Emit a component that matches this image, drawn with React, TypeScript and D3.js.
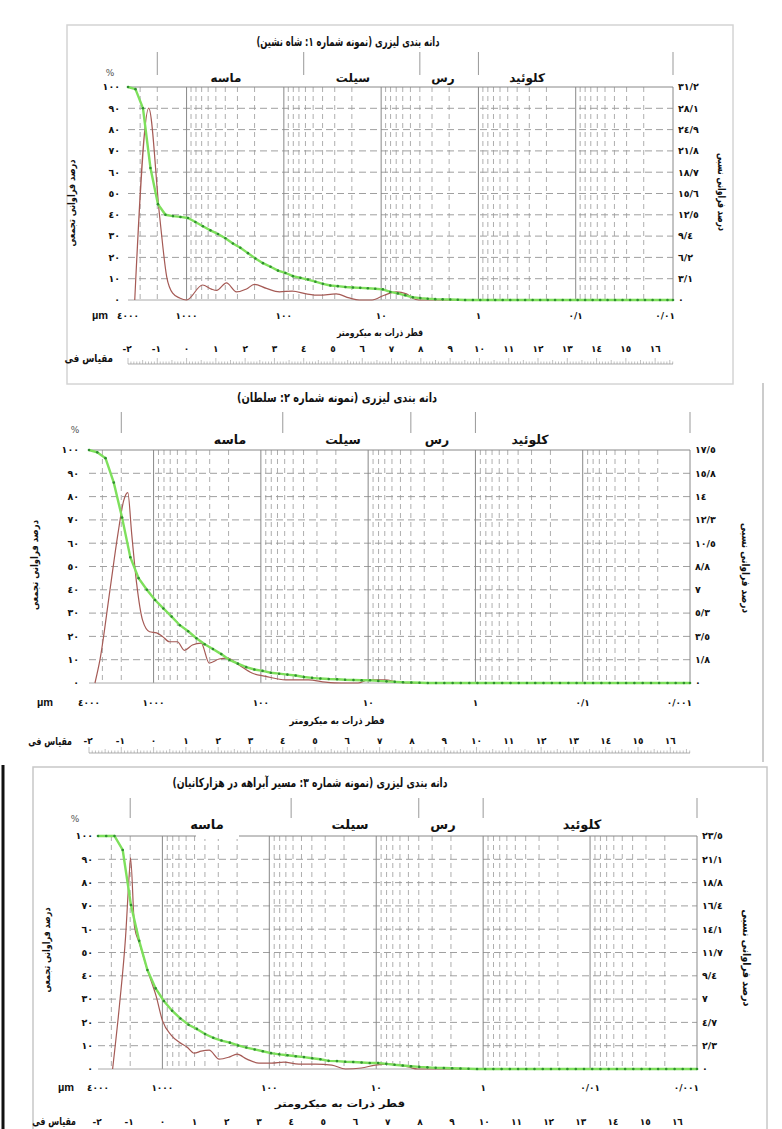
import React from 'react';
import * as d3 from 'd3';

const FONT = '"DejaVu Sans", sans-serif';
const AR = '٠١٢٣٤٥٦٧٨٩';
const toAr = (s: string) => s.replace(/[0-9]/g, (d) => AR[+d]).replace('.', '/');

// instrument size classes, µm, coarse -> fine
const SIZE_CLASSES = [4000, 3350, 2806, 2350, 1968, 1648, 1380, 1156, 968, 811, 679, 569, 476, 399, 334, 280, 234, 196, 164, 137,
  115, 96.4, 80.7, 67.6, 56.6, 47.4, 39.7, 33.3, 27.9, 23.3, 19.5, 16.4, 13.7, 11.5, 9.61, 8.05, 6.74, 5.65, 4.73, 3.96,
  3.32, 2.78, 2.33, 1.95, 1.63, 1.37, 1.14, 0.958, 0.802, 0.672, 0.563, 0.471, 0.395, 0.331, 0.277, 0.232, 0.194, 0.163, 0.136, 0.114,
  0.0955, 0.08, 0.067, 0.0561, 0.047, 0.0394, 0.033, 0.0276, 0.0231, 0.0194, 0.0162, 0.0136, 0.0114, 0.01];

// cumulative % (green)
const cum1 = [100, 99, 90, 62, 45, 40, 39.4, 39, 38.5, 36.6, 34.6, 32.7, 31, 29, 26.5, 24.5, 22, 19.5, 17.3, 15.6,
  13.8, 12.7, 11.2, 10.4, 9.6, 8.6, 7.6, 6.8, 6.5, 6.1, 5.9, 5.7, 5.5, 5.3, 5, 3.8, 3.1, 2.2, 1.3, 0.9,
  0.6, 0.4, 0.3, 0.2, 0.1, 0, 0, 0, 0, 0, 0, 0, 0, 0, 0, 0, 0, 0, 0, 0,
  0, 0, 0, 0, 0, 0, 0, 0, 0, 0, 0, 0, 0, 0];
const cum2 = [100, 99, 96.5, 86, 71, 54, 45, 40, 35.6, 32, 28.5, 24.8, 22.2, 19.2, 16.6, 14.6, 12.4, 9.9, 8.3, 6.8,
  5.8, 5.2, 4.4, 4, 3.6, 3.2, 2.6, 2.2, 1.9, 1.7, 1.6, 1.4, 1.3, 1.2, 1.2, 0.9, 0.7, 0.5, 0.3, 0.2,
  0.1, 0, 0, 0, 0, 0, 0, 0, 0, 0, 0, 0, 0, 0, 0, 0, 0, 0, 0, 0,
  0, 0, 0, 0, 0, 0, 0, 0, 0, 0, 0, 0, 0, 0];
const cum3 = [100, 100, 100, 94, 70.4, 55, 42.5, 34.6, 29.2, 25, 21.7, 19, 17.2, 15, 13.4, 12.2, 11.3, 10.1, 9.2, 8.4,
  7.6, 6.8, 6.3, 5.9, 5.5, 5.1, 4.6, 4.2, 3.5, 3.4, 3.1, 3, 2.8, 2.6, 2.6, 2.2, 1.8, 1.5, 1.2, 0.9,
  0.7, 0.5, 0.4, 0.3, 0.2, 0.1, 0, 0, 0, 0, 0, 0, 0, 0, 0, 0, 0, 0, 0, 0,
  0, 0, 0, 0, 0, 0, 0, 0, 0, 0, 0, 0, 0, 0];

// relative frequency % (brown), read as size / value pairs
const freqSizes1 = [3410, 2450, 1890, 1600, 1390, 1180, 1000, 685, 555, 492, 389, 307, 242, 201, 151, 111, 81.8, 58.8, 43.2, 29, 21.3, 16.8, 12.4, 9.3, 7, 5.5, 4.8, 4.1, 0.01];
const freqVals1 = [0, 28.1, 12.2, 3.4, 1, 0.3, 0, 2.2, 1.6, 1.4, 2.5, 1.2, 1.6, 2.3, 1.7, 1.2, 1.3, 0.9, 0.7, 0.9, 0.3, 0, 0, 0.7, 1.2, 0.9, 0.3, 0, 0];
const freqSizes2 = [3520, 3160, 2550, 2150, 1900, 1740, 1600, 1440, 1265, 1090, 938, 826, 711, 600, 516, 435, 360, 303, 245, 206, 160, 121, 90, 58.7, 36, 25, 17.8, 12.4, 10, 7, 5.3, 4, 0.01];
const freqVals2 = [0, 1.75, 7, 11.2, 13.7, 14.3, 11.2, 7.5, 4.7, 3.85, 3.76, 3.5, 3.1, 3.1, 2.45, 2.85, 3, 1.5, 1.8, 1.87, 1.35, 0.75, 0.5, 0.23, 0.23, 0.07, 0, 0, 0.23, 0.23, 0.09, 0, 0];
const freqSizes3 = [2920, 2510, 2210, 2030, 1985, 1820, 1640, 1380, 1140, 1000, 825, 695, 585, 504, 434, 365, 295, 238, 200, 162, 125, 95, 73, 53, 37, 26, 19.4, 13.8, 10.2, 7.7, 6.2, 5, 4.1, 0.01];
const freqVals3 = [0, 6.6, 13.3, 20, 21.3, 14.3, 12.7, 10, 7.3, 4.9, 3.4, 2.7, 2.2, 1.6, 1.8, 1.9, 1, 1.2, 1.5, 1, 0.6, 0.6, 0.7, 0.5, 0.5, 0.4, 0, 0.1, 0.4, 0.5, 0.4, 0.2, 0, 0];

const rightMax = [31.2, 17.5, 23.5];
const rightLabels1 = ['٠', '٣/١', '٦/٢', '٩/٤', '١٢/٥', '١٥/٦', '١٨/٧', '٢١/٨', '٢٤/٩', '٢٨/١', '٣١/٢'];
const rightLabels2 = ['٠', '١/٨', '٣/٥', '٥/٣', '٧', '٨/٨', '١٠/٥', '١٢/٣', '١٤', '١٥/٨', '١٧/٥'];
const rightLabels3 = ['٠', '٢/٣', '٤/٧', '٧', '٩/٤', '١١/٧', '١٤/١', '١٦/٤', '١٨/٨', '٢١/١', '٢٣/٥'];

const xLabelSizes = [4000, 1000, 100, 10, 1, 0.1, 0.01];
const xLabels1 = ['٤٠٠٠', '١٠٠٠', '١٠٠', '١٠', '١', '٠/١', '٠/٠١'];
const xLabels2 = ['٤٠٠٠', '١٠٠٠', '١٠٠', '١٠', '١', '٠/١', '٠/٠٠١'];
const xLabels3 = ['٤٠٠٠', '١٠٠٠', '١٠٠', '١٠', '١', '٠/٠١', '٠/٠٠١'];

const gradeBounds = [2000, 62.5, 4, 1, 0.01];
const gradeNames = ['ماسه', 'سیلت', 'رس', 'کلوئید'];
const titles = [
  'دانه بندی لیزری (نمونه شماره ١: شاه نشین)',
  'دانه بندی لیزری (نمونه شماره ٢: سلطان)',
  'دانه بندی لیزری (نمونه شماره ٣: مسیر آبراهه در هزارکانیان)',
];
const phiValues = [-2, -1, 0, 1, 2, 3, 4, 5, 6, 7, 8, 9, 10, 11, 12, 13, 14, 15, 16];

const layouts = [
  { left: 128, right: 673, top: 87, bottom: 300, titleX: 348, titleY: 46, titleW: 183, sepTop: 52, sepBot: 75, catY: 82, catFs: 12,
    catX: [226, 353, 443, 527], pctX: 110, pctY: 76, leftTickX: 120, rightTickX: 678, xLabY: 319, umX: 100,
    xTitleX: 380, xTitleY: 336, xTitleW: 86, phiY: 352, phiWordX: 113, phiWordY: 362, phiWordS: 0.8, rulerY: 364,
    leftTitleX: 75, leftTitleY: 203, leftTitleW: 87, rightTitleX: 718, rightTitleY: 192, rightTitleW: 78 },
  { left: 89, right: 690, top: 450, bottom: 683, titleX: 337, titleY: 402, titleW: 200, sepTop: 412, sepBot: 433, catY: 444, catFs: 12.5,
    catX: [230, 343, 437, 530], pctX: 75, pctY: 433, leftTickX: 79, rightTickX: 695, xLabY: 706, umX: 45,
    xTitleX: 337, xTitleY: 724, xTitleW: 95, phiY: 744, phiWordX: 72, phiWordY: 745, phiWordS: 0.72, rulerY: 753,
    leftTitleX: 38, leftTitleY: 565, leftTitleW: 90, rightTitleX: 742, rightTitleY: 568, rightTitleW: 90 },
  { left: 98, right: 697, top: 836, bottom: 1069, titleX: 310, titleY: 787, titleW: 275, sepTop: 798, sepBot: 818, catY: 829, catFs: 13,
    catX: [207, 350, 443, 582], pctX: 75, pctY: 822, leftTickX: 93, rightTickX: 702, xLabY: 1091, umX: 66,
    xTitleX: 340, xTitleY: 1107, xTitleW: 130, phiY: 1125, phiWordX: 76, phiWordY: 1125, phiWordS: 0.72, rulerY: 1137,
    leftTitleX: 50, leftTitleY: 950, leftTitleW: 85, rightTitleX: 743, rightTitleY: 958, rightTitleW: 97 },
];

type Cfg = typeof layouts[number];

function Panel({ cfg, cum, fSizes, fVals, rMax, rLabels, xLabels, title, gap }: {
  cfg: Cfg; cum: number[]; fSizes: number[]; fVals: number[]; rMax: number; rLabels: string[];
  xLabels: string[]; title: string; gap?: [number, number];
}) {
  const x = d3.scaleLog().domain([4000, 0.01]).range([cfg.left, cfg.right]);
  const y = d3.scaleLinear().domain([0, 100]).range([cfg.bottom, cfg.top]);
  const yR = d3.scaleLinear().domain([0, rMax]).range([cfg.bottom, cfg.top]);

  const majors = [1000, 100, 10, 1, 0.1];
  const minors: number[] = [];
  [-2, -1, 0, 1, 2, 3].forEach((k) => {
    for (let m = 2; m <= 9; m++) {
      const v = m * Math.pow(10, k);
      if (v < 4000 && v > 0.01) minors.push(v);
    }
  });
  const hTicks = y.ticks(10);

  const green = d3.line<number>()
    .x((_, i) => x(SIZE_CLASSES[i]))
    .y((d) => y(d));
  const brown = d3.line<number>()
    .x((_, i) => x(fSizes[i]))
    .y((d) => yR(d))
    .curve(d3.curveMonotoneX);

  const phiX = (p: number) => x(1000 * Math.pow(2, -p));
  const phiMax = Math.log2(1000 / 0.01);
  const rulerTicks = d3.range(0, Math.floor((phiMax + 2) * 10) + 1).map((i) => -2 + i / 10);

  const txt = { fontFamily: FONT, fontWeight: 700 as const };
  const greenVals = cum.slice(0, SIZE_CLASSES.length);

  return (
    <g>
      {/* title */}
      <text x={cfg.titleX} y={cfg.titleY} textAnchor="middle" direction="rtl" fontSize={12.5} {...txt} fill="#111"
        textLength={cfg.titleW} lengthAdjust="spacingAndGlyphs">{title}</text>
      {/* grade header */}
      {gradeBounds.map((b, i) => (
        <line key={'sep' + i} x1={x(b)} x2={x(b)} y1={cfg.sepTop} y2={cfg.sepBot} stroke="#999" strokeWidth={1} />
      ))}
      {gradeNames.map((n, i) => (
        <text key={'cat' + i} x={cfg.catX[i]} y={cfg.catY} textAnchor="middle" fontSize={cfg.catFs} {...txt} fill="#111">{n}</text>
      ))}
      {/* grid */}
      {hTicks.filter((t) => t > 0 && t < 100).map((t) => (
        <line key={'h' + t} x1={cfg.left} x2={cfg.right} y1={y(t)} y2={y(t)} stroke="#888" strokeWidth={0.8} strokeDasharray="7,4" />
      ))}
      {minors.map((v) => (
        <line key={'mv' + v} x1={x(v)} x2={x(v)} y1={cfg.top} y2={cfg.bottom} stroke="#999" strokeWidth={0.8} strokeDasharray="5,4" />
      ))}
      {majors.map((v) => (
        <line key={'Mv' + v} x1={x(v)} x2={x(v)} y1={cfg.top} y2={cfg.bottom} stroke="#888" strokeWidth={1} />
      ))}
      <line x1={cfg.right} x2={cfg.right} y1={cfg.top} y2={cfg.bottom} stroke="#888" strokeWidth={1} />
      <line x1={cfg.left} x2={cfg.right} y1={cfg.top} y2={cfg.top} stroke="#888" strokeWidth={1} />
      <line x1={cfg.left} x2={cfg.right} y1={cfg.bottom} y2={cfg.bottom} stroke="#aaa" strokeWidth={1} />
      {gap && <rect x={gap[0]} y={cfg.top - 4} width={gap[1] - gap[0]} height={7} fill="#fff" />}
      {/* left axis */}
      <text x={cfg.pctX} y={cfg.pctY} textAnchor="middle" fontSize={9} fontFamily={FONT} fill="#555">%</text>
      {hTicks.map((t) => (
        <text key={'lt' + t} x={cfg.leftTickX} y={y(t)} dy="0.35em" textAnchor="end" fontSize={9.5} {...txt} fill="#111">{toAr(String(t))}</text>
      ))}
      {/* right axis */}
      {rLabels.map((l, i) => (
        <text key={'rt' + i} x={cfg.rightTickX} y={yR((rMax * i) / 10)} dy="0.35em" textAnchor="start" fontSize={9.5} {...txt} fill="#111">{l}</text>
      ))}
      {/* data */}
      <path d={brown(fVals) || ''} fill="none" stroke="#a55a55" strokeWidth={1.2} />
      <path d={green(greenVals) || ''} fill="none" stroke="#7ee05c" strokeWidth={2.4} />
      {greenVals.map((v, i) => (
        <circle key={'g' + i} cx={x(SIZE_CLASSES[i])} cy={y(v)} r={1.3} fill="#2f8f2f" />
      ))}
      {/* x axis labels */}
      <text x={cfg.umX} y={cfg.xLabY} textAnchor="middle" fontSize={11} fontFamily='"Liberation Sans", Arial, sans-serif' fontWeight={700} fill="#111">µm</text>
      {xLabelSizes.map((s, i) => (
        <text key={'xl' + i} x={i === xLabelSizes.length - 1 ? x(s) + 2 : x(s)} y={cfg.xLabY}
          textAnchor={i === xLabelSizes.length - 1 ? 'end' : 'middle'} fontSize={9} {...txt} fill="#111">{xLabels[i]}</text>
      ))}
      <text x={cfg.xTitleX} y={cfg.xTitleY} textAnchor="middle" fontSize={10} {...txt} fill="#111"
        textLength={cfg.xTitleW} lengthAdjust="spacingAndGlyphs">قطر ذرات به میکرومتر</text>
      {/* phi scale */}
      {phiValues.map((p) => (
        <text key={'p' + p} x={phiX(p) - (p < 0 ? 1 : 0)} y={cfg.phiY} textAnchor="middle" fontSize={9} {...txt} fill="#111">
          {p < 0 ? '-' + toAr(String(-p)) : toAr(String(p))}
        </text>
      ))}
      <text transform={`translate(${cfg.phiWordX},${cfg.phiWordY}) scale(${cfg.phiWordS},1)`} textAnchor="end" fontSize={11} {...txt} fill="#111">مقیاس فی</text>
      <line x1={cfg.left} x2={cfg.right} y1={cfg.rulerY} y2={cfg.rulerY} stroke="#999" strokeWidth={0.8} />
      {rulerTicks.map((p, i) => {
        const h = i % 10 === 0 ? 6 : i % 5 === 0 ? 4 : 2.5;
        return <line key={'rk' + i} x1={phiX(p)} x2={phiX(p)} y1={cfg.rulerY} y2={cfg.rulerY - h} stroke="#999" strokeWidth={0.6} />;
      })}
      {/* axis titles */}
      <text transform={`translate(${cfg.leftTitleX},${cfg.leftTitleY}) rotate(-90)`} textAnchor="middle" fontSize={10} {...txt} fill="#111"
        textLength={cfg.leftTitleW} lengthAdjust="spacingAndGlyphs">درصد فراوانی تجمعی</text>
      <text transform={`translate(${cfg.rightTitleX},${cfg.rightTitleY}) rotate(90)`} textAnchor="middle" fontSize={11} {...txt} fill="#111"
        textLength={cfg.rightTitleW} lengthAdjust="spacingAndGlyphs">درصد فراوانی نسبی</text>
    </g>
  );
}

export default function App() {
  return (
    <svg width={782} height={1129} viewBox="0 0 782 1129" style={{ position: 'absolute', left: 0, top: 0, background: '#fff' }}>
      <rect x={0} y={0} width={782} height={1129} fill="#fff" />
      {/* frames */}
      <rect x={67} y={25} width={666} height={359} fill="none" stroke="#d4d4d4" strokeWidth={1.5} />
      <line x1={763} x2={763} y1={383} y2={762} stroke="#aaa" strokeWidth={1.2} />
      <rect x={33} y={767} width={734} height={380} fill="none" stroke="#c8c8c8" strokeWidth={1.5} />
      <line x1={3} x2={3} y1={765} y2={1129} stroke="#111" strokeWidth={3} />
      <Panel cfg={layouts[0]} cum={cum1} fSizes={freqSizes1} fVals={freqVals1} rMax={rightMax[0]}
        rLabels={rightLabels1} xLabels={xLabels1} title={titles[0]} />
      <Panel cfg={layouts[1]} cum={cum2} fSizes={freqSizes2} fVals={freqVals2} rMax={rightMax[1]}
        rLabels={rightLabels2} xLabels={xLabels2} title={titles[1]} />
      <Panel cfg={layouts[2]} cum={cum3} fSizes={freqSizes3} fVals={freqVals3} rMax={rightMax[2]}
        rLabels={rightLabels3} xLabels={xLabels3} title={titles[2]} gap={[196, 239]} />
    </svg>
  );
}
